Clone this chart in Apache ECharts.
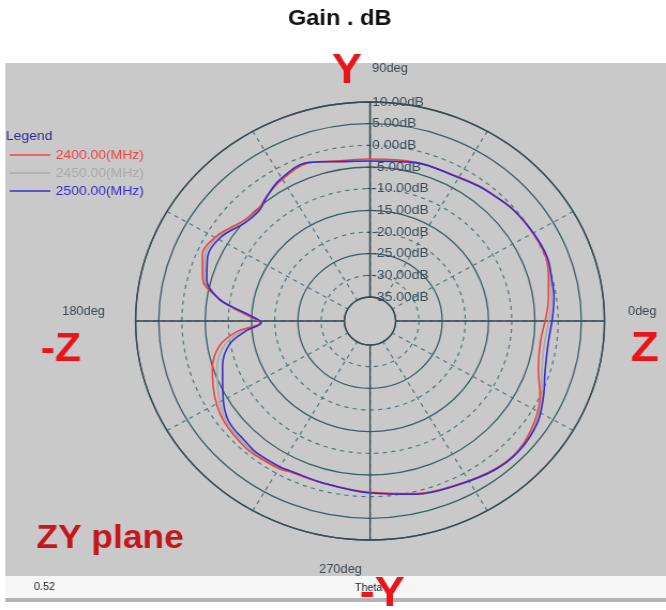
<!DOCTYPE html>
<html>
<head>
<meta charset="utf-8">
<script src="https://cdn.jsdelivr.net/npm/echarts@6/dist/echarts.min.js"></script>
<style>
  html, body { margin: 0; padding: 0; background: #fff; overflow: hidden; }
  /* the source screenshot is stretched sideways, so the chart is drawn narrow and widened */
  #chart { width: 622px; height: 610px; transform: scaleX(1.0707); transform-origin: 0 0; }
</style>
</head>
<body>
<div id="chart"></div>
<script>
// theta (deg) and gain (dB)
var angles = [0, 8, 14, 21, 30, 40, 49, 53, 61, 75, 90, 100, 110, 121, 128, 133, 140, 149, 157, 165,
  171, 174, 177, 181, 185, 190, 198, 208, 217, 227, 231, 240, 243, 255, 270, 284, 296, 308, 317, 327,
  335, 343, 352, 360];
var gain2400 = [-2.8, -1.7, -0.9, 0.1, 0.0, -0.4, -1.2, -1.5, -2.3, -2.6, -3.15, -3.0, -1.7, -2.9, -4.2,
  -5.2, -4.7, -2.2, -1.3, -3.2, -7.5, -10.7, -13.8, -16.8, -11.6, -7.6, -4.8, -2.7, -1.4, -0.85,
  -0.9, -1.2, -1.6, -1.8, -1.0, 0.5, 1.6, 2.9, 3.2, 1.8, -0.1, -2.6, -3.5, -2.8];
var gain2450 = [-2.0, -1.1, -0.5, 0.3, 0.1, -0.4, -1.25, -1.55, -2.35, -2.65, -3.4, -3.1, -1.65, -2.8, -4.25,
  -5.4, -5.0, -2.6, -1.9, -3.6, -7.5, -10.8, -14.1, -17.0, -12.6, -8.7, -5.9, -3.6, -1.8, -1.3,
  -1.2, -1.4, -1.75, -1.8, -0.9, 0.6, 1.65, 3.0, 3.3, 2.2, 0.3, -1.8, -2.6, -2.0];
var gain2500 = [-1.3, -0.5, -0.2, 0.4, 0.1, -0.4, -1.3, -1.6, -2.4, -2.7, -3.6, -3.2, -1.6, -2.6, -4.3,
  -5.6, -5.3, -3.0, -2.5, -4.1, -7.5, -11.0, -14.5, -17.1, -13.6, -9.8, -7.1, -4.6, -2.3, -1.8,
  -1.5, -1.65, -1.9, -1.8, -0.85, 0.65, 1.7, 3.1, 3.4, 2.5, 0.7, -1.1, -1.8, -1.3];
var seriesNames = ['2400.00(MHz)', '2450.00(MHz)', '2500.00(MHz)'];
var seriesColors = ['#ee4444', '#a9a9a9', '#3a2ccc'];
var degLabels = ['0deg', '90deg', '180deg', '270deg'];

var chart = echarts.init(document.getElementById('chart'));

var cx = 345.6, cy = 321;
var rIn = 24, rOut = 219;
var pxPerDb = (rOut - rIn) / 45;   // -35 dB .. 10 dB

function pairs(vals) {
  return vals.map(function (v, i) { return [v, angles[i]]; });
}

var ringSolid = '#3f5d68';
var ringDash = '#557680';
var red = '#e8151b';

var option = {
  backgroundColor: '#fff',
  animation: false,
  polar: [
    { center: [cx, cy], radius: [rIn, rOut] },
    { center: [cx, cy], radius: [rIn + 5 * pxPerDb, rIn + 35 * pxPerDb] },
    { center: [cx, cy], radius: [rIn, rOut] }
  ],
  angleAxis: [
    {
      polarIndex: 0, type: 'value', min: 0, max: 360, interval: 30, startAngle: 0, clockwise: false,
      axisLine: { show: false }, axisTick: { show: false }, axisLabel: { show: false },
      splitLine: { show: true, lineStyle: { color: ringDash, type: [4, 4], width: 1.2 } }
    },
    {
      polarIndex: 1, type: 'value', min: 0, max: 360, startAngle: 0, clockwise: false,
      axisLine: { show: false }, axisTick: { show: false }, axisLabel: { show: false },
      splitLine: { show: false }
    },
    {
      polarIndex: 2, type: 'value', min: 0, max: 360, interval: 90, startAngle: 90, clockwise: false,
      axisLine: { show: true, lineStyle: { color: '#3c4a52', width: 1.4 } },
      axisTick: { show: false }, axisLabel: { show: false },
      splitLine: { show: true, lineStyle: { color: '#34474f', width: 1.3 } }
    }
  ],
  radiusAxis: [
    {
      polarIndex: 0, min: -35, max: 10, interval: 10,
      axisLine: { show: false }, axisTick: { show: false }, axisLabel: { show: false },
      splitLine: { show: true, lineStyle: { color: ringSolid, width: 1.3 } }
    },
    {
      polarIndex: 1, min: -30, max: 0, interval: 10,
      axisLine: { show: false }, axisTick: { show: false }, axisLabel: { show: false },
      splitLine: { show: true, lineStyle: { color: ringDash, type: [4, 4], width: 1.2 } }
    },
    {
      polarIndex: 2, min: -35, max: 10, interval: 5, z: 5,
      axisLine: { show: true, lineStyle: { color: '#34474f', width: 1.3 } },
      axisTick: { show: true, length: 3, lineStyle: { color: '#34474f' } },
      // labels sit right of the vertical axis, like the HFSS plot
      axisLabel: {
        show: true, margin: -2, align: 'left', verticalAlign: 'middle', color: '#3b4d5a',
        fontFamily: 'Liberation Sans', fontSize: 13,
        formatter: function (v) { return v.toFixed(2) + 'dB'; }
      },
      splitLine: { show: false }
    }
  ],
  legend: {
    orient: 'vertical', left: 9, top: 148, itemGap: 4, padding: 0,
    icon: 'rect', itemWidth: 38, itemHeight: 1.4,
    textStyle: { fontFamily: 'Liberation Sans', fontSize: 13, lineHeight: 14 },
    data: seriesNames.map(function (n, i) {
      return { name: n, textStyle: { color: seriesColors[i] } };
    })
  },
  series: [
    { name: seriesNames[1], data: pairs(gain2450), color: seriesColors[1] },
    { name: seriesNames[0], data: pairs(gain2400), color: seriesColors[0] },
    { name: seriesNames[2], data: pairs(gain2500), color: seriesColors[2] }
  ].map(function (s) {
    return {
      name: s.name, type: 'line', coordinateSystem: 'polar', polarIndex: 0,
      symbol: 'none', smooth: 0.35, z: 10,
      lineStyle: { color: s.color, width: 1.6 },
      itemStyle: { color: s.color },
      data: s.data
    };
  }),
  graphic: [
    { type: 'rect', z: -10, shape: { x: 5, y: 63, width: 620, height: 513 }, style: { fill: '#c9c9c9' } },
    { type: 'rect', z: -10, shape: { x: 5, y: 576, width: 620, height: 22 }, style: { fill: '#f6f6f6' } },
    { type: 'rect', z: -10, shape: { x: 5, y: 598, width: 620, height: 4 }, style: { fill: '#b4b4b4' } },
    { type: 'text', left: 269, top: 8, style: { text: 'Gain . dB', fill: '#111', font: 'bold 22px "Liberation Sans"' } },
    { type: 'text', left: 5.6, top: 130, style: { text: 'Legend', fill: '#2b2b9c', font: '13px "Liberation Sans"' } },
    { type: 'text', left: 347.6, top: 63, style: { text: degLabels[1], fill: '#3d4850', font: '12px "Liberation Sans"' } },
    { type: 'text', left: 58, top: 306, style: { text: degLabels[2], fill: '#3d4850', font: '12px "Liberation Sans"' } },
    { type: 'text', left: 586.5, top: 306, style: { text: degLabels[0], fill: '#3d4850', font: '12px "Liberation Sans"' } },
    { type: 'text', left: 298, top: 564, style: { text: degLabels[3], fill: '#3d4850', font: '12px "Liberation Sans"' } },
    { type: 'text', left: 31.8, top: 582, style: { text: '0.52', fill: '#222', font: '10px "Liberation Sans"' } },
    { type: 'text', left: 331.6, top: 583, style: { text: 'Theta', fill: '#222', font: '10px "Liberation Sans"' } },
    { type: 'text', left: 310, top: 50, style: { text: 'Y', fill: red, font: 'bold 42px "Liberation Sans"' } },
    { type: 'text', left: 38, top: 330, style: { text: '-Z', fill: red, font: 'bold 40px "Liberation Sans"' } },
    { type: 'text', left: 589, top: 328, style: { text: 'Z', fill: red, font: 'bold 43px "Liberation Sans"' } },
    { type: 'text', left: 34, top: 522, style: { text: 'ZY plane', fill: '#c4161d', font: 'bold 33px "Liberation Sans"' } },
    { type: 'text', left: 336, top: 573, style: { text: '-Y', fill: red, font: 'bold 42px "Liberation Sans"' } }
  ]
};

chart.setOption(option);
</script>
</body>
</html>
